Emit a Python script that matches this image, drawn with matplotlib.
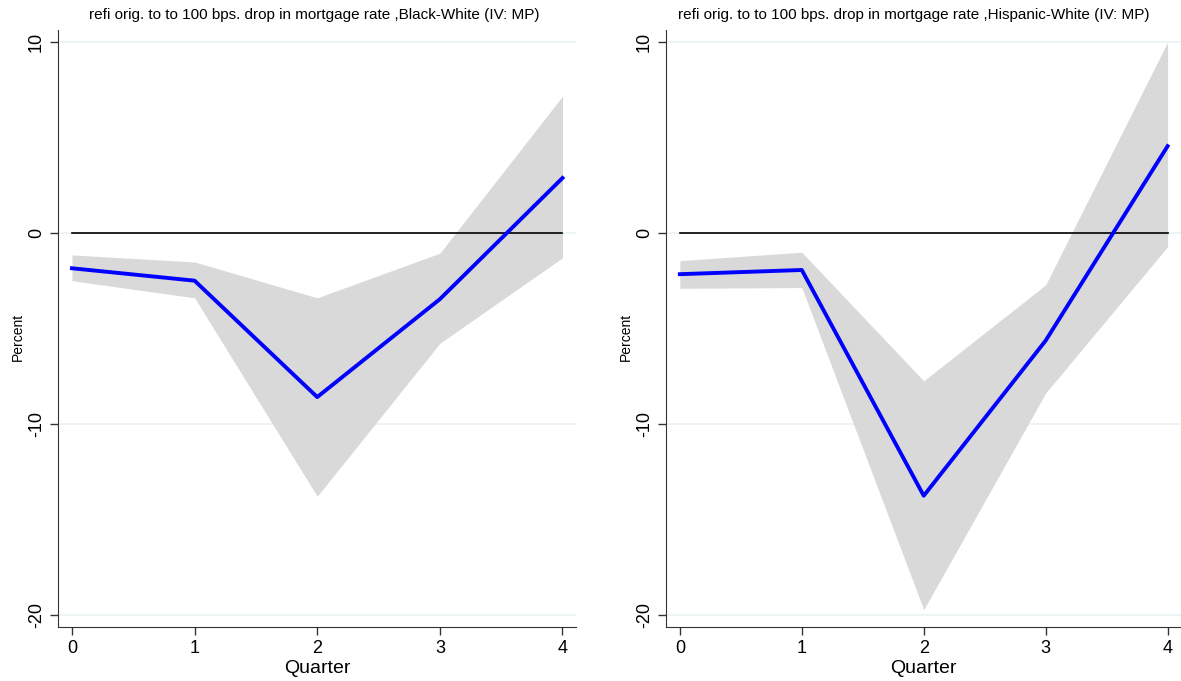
import numpy as np
import matplotlib.pyplot as plt

plt.rcParams['font.family'] = ['Liberation Sans', 'DejaVu Sans']

# 数据
quarters = [0, 1, 2, 3, 4]

bw_point = [-1.85, -2.5, -8.6, -3.47, 2.88]
bw_upper = [-1.15, -1.52, -3.4, -1.06, 7.17]
bw_lower = [-2.5, -3.4, -13.8, -5.78, -1.3]

hw_point = [-2.16, -1.94, -13.77, -5.64, 4.55]
hw_upper = [-1.45, -1.01, -7.75, -2.72, 10.0]
hw_lower = [-2.9, -2.86, -19.74, -8.39, -0.72]

titles = ['refi orig. to to 100 bps. drop in mortgage rate ,Black-White (IV: MP)',
          'refi orig. to to 100 bps. drop in mortgage rate ,Hispanic-White (IV: MP)']
y_ticks = [-20, -10, 0, 10]


# 画单个面板
def draw_panel(ax, point, upper, lower, title, title_x):
    for t in y_ticks:
        ax.axhline(t, color='#eaf2f3', lw=1.2, zorder=0)
    ax.fill_between(quarters, lower, upper, color='#d9d9d9', lw=0, zorder=1)
    ax.plot(quarters, [0] * len(quarters), color='black', lw=1.2, zorder=2)
    ax.plot(quarters, point, color='#0000ff', lw=2.8, zorder=3)
    ax.set_xlim(-0.114, 4.11)
    ax.set_ylim(-20.65, 10.65)
    ax.set_xticks(quarters)
    ax.set_yticks(y_ticks)
    ax.set_yticklabels([str(t) for t in y_ticks], rotation=90, va='center')
    ax.tick_params(axis='both', labelsize=13, length=6, width=1, color='#333333')
    ax.spines['top'].set_visible(False)
    ax.spines['right'].set_visible(False)
    ax.spines['left'].set_color('#333333')
    ax.spines['bottom'].set_color('#333333')
    ax.set_xlabel('Quarter', fontsize=14, labelpad=2)
    ax.set_ylabel('Percent', fontsize=10)
    ax.yaxis.set_label_coords(-0.064, 0.485)
    ax.set_title(title, fontsize=11, pad=8, x=title_x)


def main():
    fig = plt.figure(figsize=(11.81, 6.81), dpi=100)
    ax1 = fig.add_axes([0.0491, 0.0793, 0.4386, 0.877])
    ax2 = fig.add_axes([0.5639, 0.0793, 0.4361, 0.877])
    draw_panel(ax1, bw_point, bw_upper, bw_lower, titles[0], 0.495)
    draw_panel(ax2, hw_point, hw_upper, hw_lower, titles[1], 0.481)
    fig.savefig('out.png', dpi=100)


if __name__ == '__main__':
    main()
